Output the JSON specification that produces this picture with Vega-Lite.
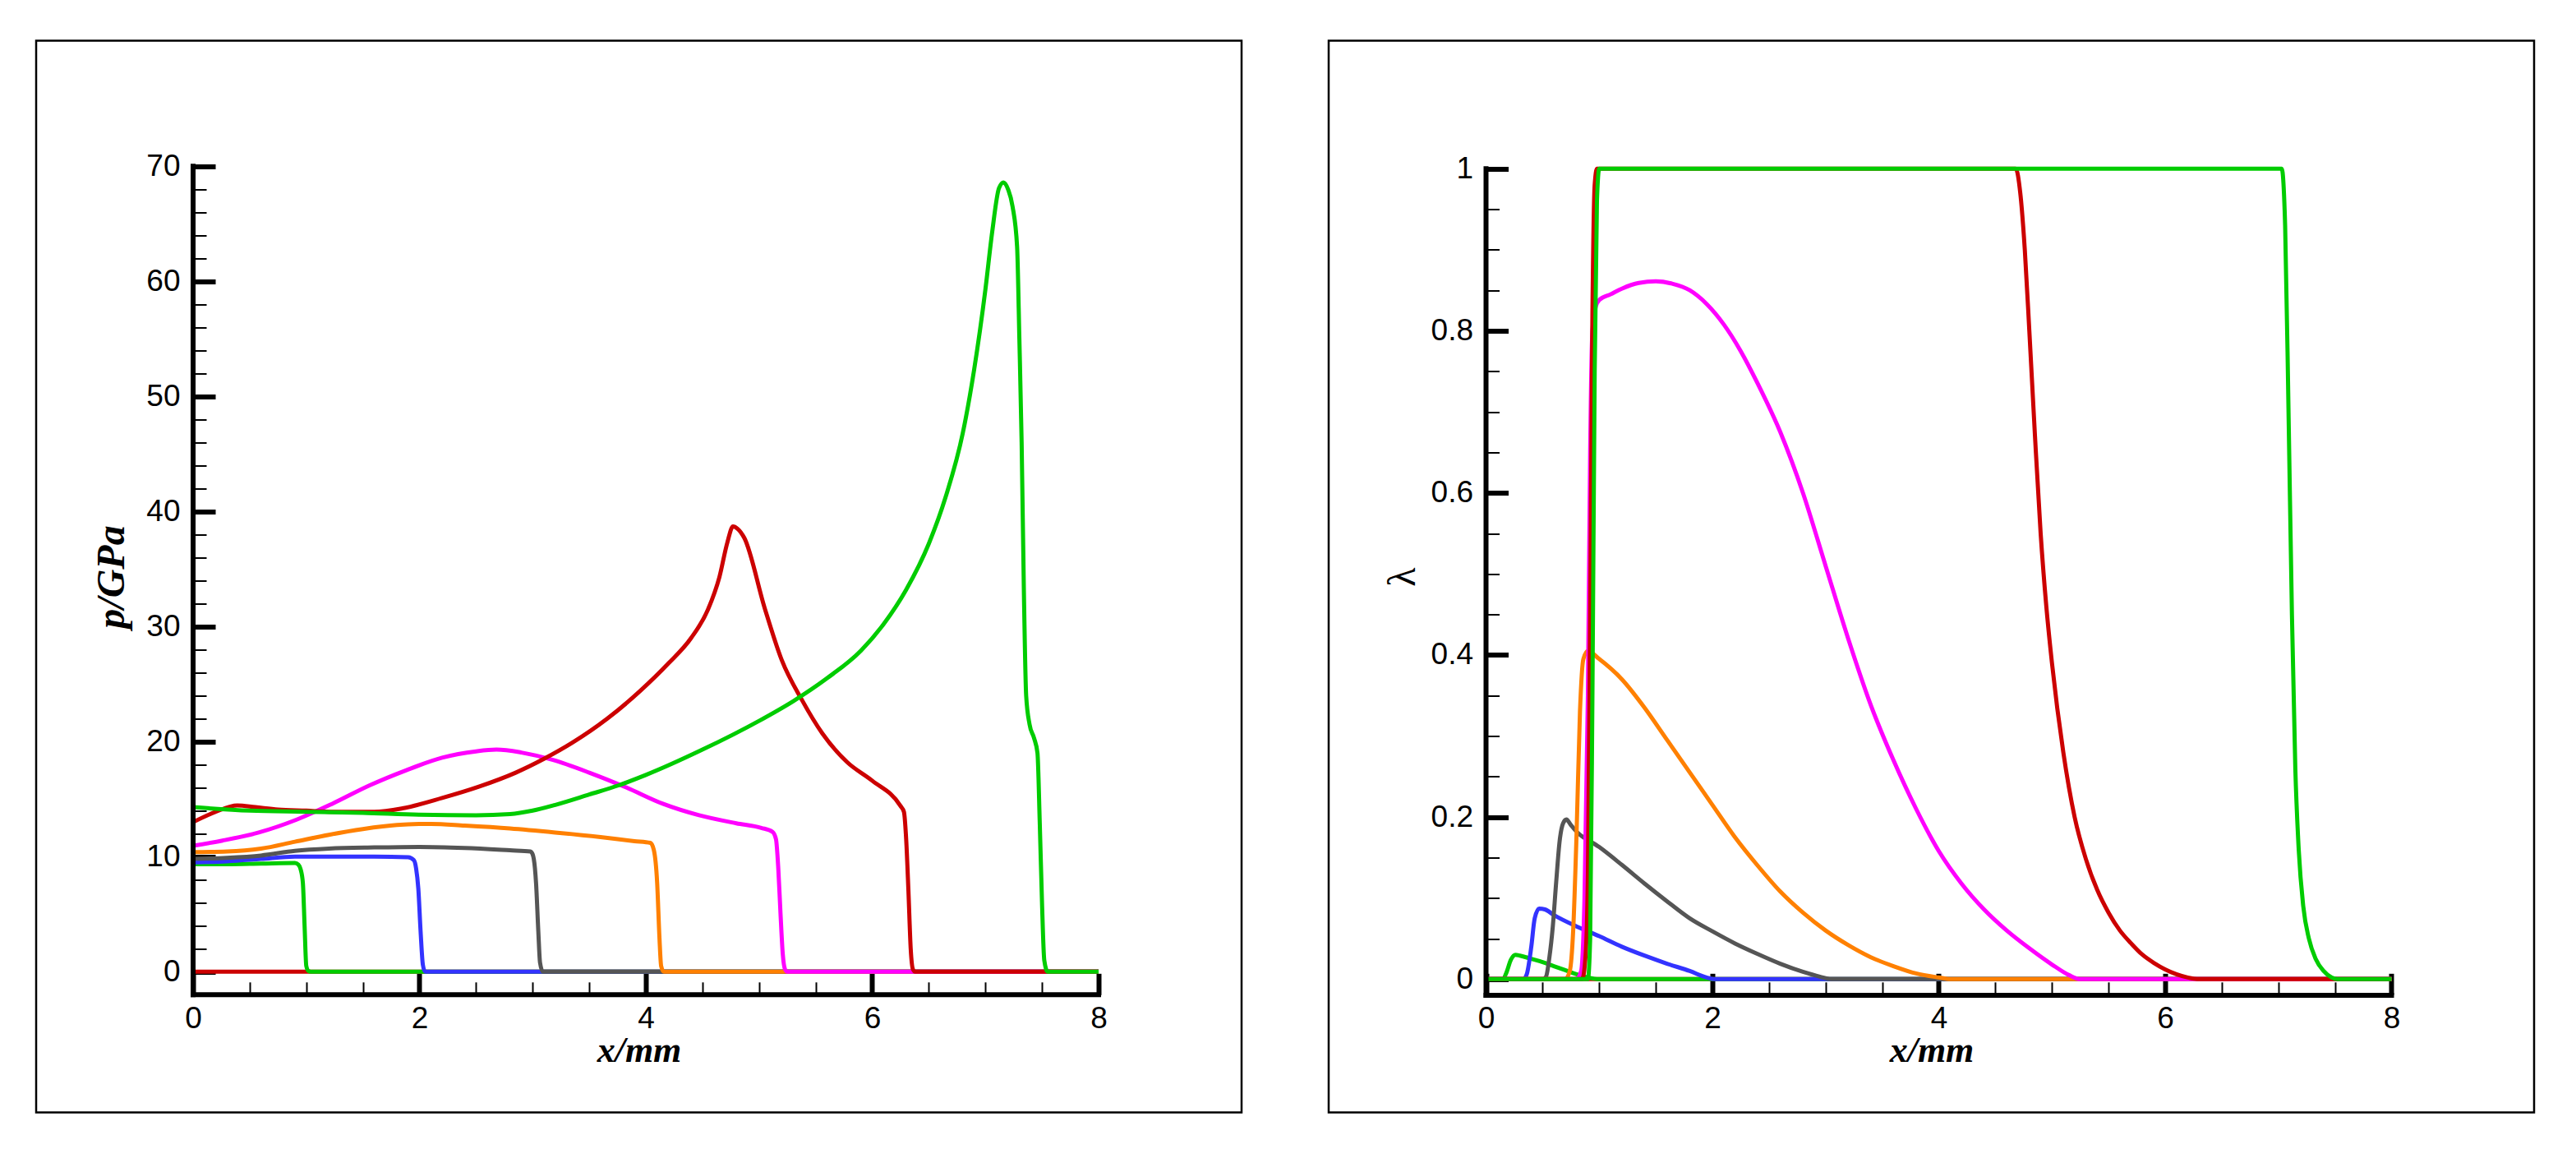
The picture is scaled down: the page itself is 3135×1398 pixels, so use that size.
{
  "$schema": "https://vega.github.io/schema/vega-lite/v6.json",
  "padding": {"left": 42, "top": 47.5, "right": 0, "bottom": 0},
  "background": "white",
  "spacing": 102,
  "datasets": {
    "p": [
      {"series": "t0", "x": 0, "p": 0}, {"series": "t0", "x": 8, "p": 0},

      {"series": "t1", "x": 0, "p": 9.35}, {"series": "t1", "x": 0.3, "p": 9.35}, {"series": "t1", "x": 0.6, "p": 9.4},
      {"series": "t1", "x": 0.9, "p": 9.45}, {"series": "t1", "x": 0.93, "p": 9.3}, {"series": "t1", "x": 0.95, "p": 8.9},
      {"series": "t1", "x": 0.97, "p": 7.7}, {"series": "t1", "x": 0.985, "p": 4}, {"series": "t1", "x": 1.0, "p": 0.5},
      {"series": "t1", "x": 1.02, "p": 0.05}, {"series": "t1", "x": 1.04, "p": 0}, {"series": "t1", "x": 8, "p": 0},

      {"series": "t2", "x": 0, "p": 9.5}, {"series": "t2", "x": 0.3, "p": 9.6}, {"series": "t2", "x": 0.6, "p": 9.8},
      {"series": "t2", "x": 0.9, "p": 10.0}, {"series": "t2", "x": 1.3, "p": 10.0}, {"series": "t2", "x": 1.6, "p": 10.0},
      {"series": "t2", "x": 1.9, "p": 9.95}, {"series": "t2", "x": 1.95, "p": 9.7}, {"series": "t2", "x": 1.97, "p": 9.0},
      {"series": "t2", "x": 1.99, "p": 7.2}, {"series": "t2", "x": 2.01, "p": 3.5}, {"series": "t2", "x": 2.03, "p": 0.6},
      {"series": "t2", "x": 2.05, "p": 0}, {"series": "t2", "x": 8, "p": 0},

      {"series": "t3", "x": 0, "p": 9.8}, {"series": "t3", "x": 0.3, "p": 9.9}, {"series": "t3", "x": 0.6, "p": 10.1},
      {"series": "t3", "x": 0.9, "p": 10.5}, {"series": "t3", "x": 1.2, "p": 10.7}, {"series": "t3", "x": 1.6, "p": 10.8},
      {"series": "t3", "x": 2.0, "p": 10.85}, {"series": "t3", "x": 2.4, "p": 10.75}, {"series": "t3", "x": 2.8, "p": 10.55},
      {"series": "t3", "x": 2.98, "p": 10.45}, {"series": "t3", "x": 3.0, "p": 10.2}, {"series": "t3", "x": 3.02, "p": 9.0},
      {"series": "t3", "x": 3.03, "p": 7.7}, {"series": "t3", "x": 3.05, "p": 3.5}, {"series": "t3", "x": 3.065, "p": 0.8},
      {"series": "t3", "x": 3.09, "p": 0}, {"series": "t3", "x": 8, "p": 0},

      {"series": "t4", "x": 0, "p": 10.4}, {"series": "t4", "x": 0.3, "p": 10.45}, {"series": "t4", "x": 0.6, "p": 10.7},
      {"series": "t4", "x": 0.9, "p": 11.3}, {"series": "t4", "x": 1.2, "p": 11.9}, {"series": "t4", "x": 1.5, "p": 12.4},
      {"series": "t4", "x": 1.8, "p": 12.75}, {"series": "t4", "x": 2.1, "p": 12.85}, {"series": "t4", "x": 2.4, "p": 12.7},
      {"series": "t4", "x": 2.8, "p": 12.45}, {"series": "t4", "x": 3.2, "p": 12.1}, {"series": "t4", "x": 3.6, "p": 11.7},
      {"series": "t4", "x": 3.9, "p": 11.35}, {"series": "t4", "x": 4.04, "p": 11.2}, {"series": "t4", "x": 4.07, "p": 10.6},
      {"series": "t4", "x": 4.1, "p": 7.7}, {"series": "t4", "x": 4.12, "p": 3}, {"series": "t4", "x": 4.135, "p": 0.5},
      {"series": "t4", "x": 4.16, "p": 0}, {"series": "t4", "x": 8, "p": 0},

      {"series": "t5", "x": 0, "p": 10.95}, {"series": "t5", "x": 0.26, "p": 11.4}, {"series": "t5", "x": 0.58, "p": 12.1},
      {"series": "t5", "x": 0.91, "p": 13.2}, {"series": "t5", "x": 1.23, "p": 14.6}, {"series": "t5", "x": 1.56, "p": 16.2},
      {"series": "t5", "x": 1.88, "p": 17.5}, {"series": "t5", "x": 2.2, "p": 18.6}, {"series": "t5", "x": 2.5, "p": 19.15},
      {"series": "t5", "x": 2.68, "p": 19.3}, {"series": "t5", "x": 2.9, "p": 19.05}, {"series": "t5", "x": 3.18, "p": 18.4},
      {"series": "t5", "x": 3.5, "p": 17.3}, {"series": "t5", "x": 3.83, "p": 16.0}, {"series": "t5", "x": 4.15, "p": 14.6},
      {"series": "t5", "x": 4.47, "p": 13.6}, {"series": "t5", "x": 4.8, "p": 12.9}, {"series": "t5", "x": 5.02, "p": 12.5},
      {"series": "t5", "x": 5.12, "p": 12.15}, {"series": "t5", "x": 5.15, "p": 11.5}, {"series": "t5", "x": 5.17, "p": 9},
      {"series": "t5", "x": 5.19, "p": 5}, {"series": "t5", "x": 5.21, "p": 1.5}, {"series": "t5", "x": 5.23, "p": 0.2},
      {"series": "t5", "x": 5.25, "p": 0}, {"series": "t5", "x": 8, "p": 0},

      {"series": "t6", "x": 0, "p": 13.0}, {"series": "t6", "x": 0.2, "p": 13.9}, {"series": "t6", "x": 0.39, "p": 14.45},
      {"series": "t6", "x": 0.55, "p": 14.3}, {"series": "t6", "x": 0.75, "p": 14.1}, {"series": "t6", "x": 1.0, "p": 14.0},
      {"series": "t6", "x": 1.23, "p": 13.9}, {"series": "t6", "x": 1.6, "p": 13.9}, {"series": "t6", "x": 1.85, "p": 14.2},
      {"series": "t6", "x": 2.2, "p": 15.1}, {"series": "t6", "x": 2.53, "p": 16.1}, {"series": "t6", "x": 2.85, "p": 17.3},
      {"series": "t6", "x": 3.1, "p": 18.5}, {"series": "t6", "x": 3.35, "p": 19.9}, {"series": "t6", "x": 3.66, "p": 22.0},
      {"series": "t6", "x": 3.95, "p": 24.4}, {"series": "t6", "x": 4.2, "p": 26.8}, {"series": "t6", "x": 4.4, "p": 29.0},
      {"series": "t6", "x": 4.55, "p": 31.5}, {"series": "t6", "x": 4.65, "p": 34.3}, {"series": "t6", "x": 4.72, "p": 37.3},
      {"series": "t6", "x": 4.77, "p": 38.7}, {"series": "t6", "x": 4.81, "p": 38.5}, {"series": "t6", "x": 4.87, "p": 37.7},
      {"series": "t6", "x": 5.05, "p": 31.6}, {"series": "t6", "x": 5.2, "p": 27.1}, {"series": "t6", "x": 5.38, "p": 23.6},
      {"series": "t6", "x": 5.56, "p": 20.7}, {"series": "t6", "x": 5.78, "p": 18.2}, {"series": "t6", "x": 6.0, "p": 16.6},
      {"series": "t6", "x": 6.25, "p": 14.4}, {"series": "t6", "x": 6.28, "p": 13.9}, {"series": "t6", "x": 6.3, "p": 11.5},
      {"series": "t6", "x": 6.32, "p": 7}, {"series": "t6", "x": 6.34, "p": 2}, {"series": "t6", "x": 6.36, "p": 0.2},
      {"series": "t6", "x": 6.38, "p": 0}, {"series": "t6", "x": 8, "p": 0},

      {"series": "t7", "x": 0, "p": 14.3}, {"series": "t7", "x": 0.5, "p": 14.0}, {"series": "t7", "x": 1.0, "p": 13.9},
      {"series": "t7", "x": 1.5, "p": 13.8}, {"series": "t7", "x": 2.0, "p": 13.65}, {"series": "t7", "x": 2.5, "p": 13.6},
      {"series": "t7", "x": 2.8, "p": 13.7}, {"series": "t7", "x": 3.0, "p": 14.0}, {"series": "t7", "x": 3.2, "p": 14.5},
      {"series": "t7", "x": 3.5, "p": 15.4}, {"series": "t7", "x": 3.76, "p": 16.2}, {"series": "t7", "x": 4.0, "p": 17.1},
      {"series": "t7", "x": 4.5, "p": 19.3}, {"series": "t7", "x": 5.0, "p": 21.8}, {"series": "t7", "x": 5.3, "p": 23.5},
      {"series": "t7", "x": 5.6, "p": 25.5}, {"series": "t7", "x": 5.9, "p": 27.9}, {"series": "t7", "x": 6.1, "p": 30.2},
      {"series": "t7", "x": 6.3, "p": 33.2}, {"series": "t7", "x": 6.5, "p": 37.2}, {"series": "t7", "x": 6.65, "p": 41.3},
      {"series": "t7", "x": 6.8, "p": 46.8}, {"series": "t7", "x": 6.9, "p": 52.3}, {"series": "t7", "x": 7.0, "p": 59.3},
      {"series": "t7", "x": 7.06, "p": 64.3}, {"series": "t7", "x": 7.12, "p": 68.1}, {"series": "t7", "x": 7.16, "p": 68.6},
      {"series": "t7", "x": 7.2, "p": 68.0}, {"series": "t7", "x": 7.24, "p": 66.5}, {"series": "t7", "x": 7.28, "p": 63},
      {"series": "t7", "x": 7.3, "p": 55}, {"series": "t7", "x": 7.32, "p": 46}, {"series": "t7", "x": 7.34, "p": 33},
      {"series": "t7", "x": 7.36, "p": 24}, {"series": "t7", "x": 7.39, "p": 21.5}, {"series": "t7", "x": 7.43, "p": 20.3},
      {"series": "t7", "x": 7.46, "p": 19}, {"series": "t7", "x": 7.48, "p": 13}, {"series": "t7", "x": 7.5, "p": 6},
      {"series": "t7", "x": 7.52, "p": 1}, {"series": "t7", "x": 7.55, "p": 0}, {"series": "t7", "x": 8, "p": 0}
    ],
    "lambda": [
      {"series": "t0", "x": 0, "lambda": 0}, {"series": "t0", "x": 8, "lambda": 0},

      {"series": "t1", "x": 0, "lambda": 0}, {"series": "t1", "x": 0.15, "lambda": 0}, {"series": "t1", "x": 0.18, "lambda": 0.008},
      {"series": "t1", "x": 0.22, "lambda": 0.024}, {"series": "t1", "x": 0.26, "lambda": 0.03}, {"series": "t1", "x": 0.3, "lambda": 0.029},
      {"series": "t1", "x": 0.4, "lambda": 0.025}, {"series": "t1", "x": 0.5, "lambda": 0.021}, {"series": "t1", "x": 0.6, "lambda": 0.016},
      {"series": "t1", "x": 0.7, "lambda": 0.011}, {"series": "t1", "x": 0.8, "lambda": 0.006}, {"series": "t1", "x": 0.9, "lambda": 0.002},
      {"series": "t1", "x": 1.0, "lambda": 0}, {"series": "t1", "x": 8, "lambda": 0},

      {"series": "t2", "x": 0, "lambda": 0}, {"series": "t2", "x": 0.33, "lambda": 0}, {"series": "t2", "x": 0.36, "lambda": 0.006},
      {"series": "t2", "x": 0.4, "lambda": 0.04}, {"series": "t2", "x": 0.43, "lambda": 0.075}, {"series": "t2", "x": 0.47, "lambda": 0.087},
      {"series": "t2", "x": 0.52, "lambda": 0.086}, {"series": "t2", "x": 0.6, "lambda": 0.079}, {"series": "t2", "x": 0.8, "lambda": 0.065},
      {"series": "t2", "x": 1.0, "lambda": 0.053}, {"series": "t2", "x": 1.2, "lambda": 0.04}, {"series": "t2", "x": 1.4, "lambda": 0.029},
      {"series": "t2", "x": 1.6, "lambda": 0.019}, {"series": "t2", "x": 1.8, "lambda": 0.01}, {"series": "t2", "x": 1.95, "lambda": 0.002},
      {"series": "t2", "x": 2.02, "lambda": 0}, {"series": "t2", "x": 8, "lambda": 0},

      {"series": "t3", "x": 0, "lambda": 0}, {"series": "t3", "x": 0.5, "lambda": 0}, {"series": "t3", "x": 0.53, "lambda": 0.003},
      {"series": "t3", "x": 0.56, "lambda": 0.027}, {"series": "t3", "x": 0.59, "lambda": 0.065}, {"series": "t3", "x": 0.62, "lambda": 0.12},
      {"series": "t3", "x": 0.65, "lambda": 0.17}, {"series": "t3", "x": 0.68, "lambda": 0.192}, {"series": "t3", "x": 0.71, "lambda": 0.197},
      {"series": "t3", "x": 0.75, "lambda": 0.19}, {"series": "t3", "x": 0.8, "lambda": 0.182}, {"series": "t3", "x": 1.0, "lambda": 0.163},
      {"series": "t3", "x": 1.2, "lambda": 0.141}, {"series": "t3", "x": 1.4, "lambda": 0.118}, {"series": "t3", "x": 1.6, "lambda": 0.096},
      {"series": "t3", "x": 1.8, "lambda": 0.075}, {"series": "t3", "x": 2.0, "lambda": 0.059}, {"series": "t3", "x": 2.2, "lambda": 0.044},
      {"series": "t3", "x": 2.4, "lambda": 0.031}, {"series": "t3", "x": 2.6, "lambda": 0.019}, {"series": "t3", "x": 2.8, "lambda": 0.009},
      {"series": "t3", "x": 2.95, "lambda": 0.003}, {"series": "t3", "x": 3.05, "lambda": 0}, {"series": "t3", "x": 8, "lambda": 0},

      {"series": "t4", "x": 0, "lambda": 0}, {"series": "t4", "x": 0.7, "lambda": 0}, {"series": "t4", "x": 0.74, "lambda": 0.01},
      {"series": "t4", "x": 0.77, "lambda": 0.06}, {"series": "t4", "x": 0.8, "lambda": 0.18}, {"series": "t4", "x": 0.83, "lambda": 0.33},
      {"series": "t4", "x": 0.86, "lambda": 0.395}, {"series": "t4", "x": 0.9, "lambda": 0.405}, {"series": "t4", "x": 1.0, "lambda": 0.395},
      {"series": "t4", "x": 1.2, "lambda": 0.37}, {"series": "t4", "x": 1.4, "lambda": 0.335}, {"series": "t4", "x": 1.6, "lambda": 0.295},
      {"series": "t4", "x": 1.8, "lambda": 0.255}, {"series": "t4", "x": 2.0, "lambda": 0.215}, {"series": "t4", "x": 2.2, "lambda": 0.175},
      {"series": "t4", "x": 2.4, "lambda": 0.14}, {"series": "t4", "x": 2.6, "lambda": 0.108}, {"series": "t4", "x": 2.8, "lambda": 0.082},
      {"series": "t4", "x": 3.0, "lambda": 0.06}, {"series": "t4", "x": 3.2, "lambda": 0.042}, {"series": "t4", "x": 3.4, "lambda": 0.027},
      {"series": "t4", "x": 3.6, "lambda": 0.016}, {"series": "t4", "x": 3.8, "lambda": 0.007}, {"series": "t4", "x": 4.0, "lambda": 0.002},
      {"series": "t4", "x": 4.1, "lambda": 0}, {"series": "t4", "x": 8, "lambda": 0},

      {"series": "t5", "x": 0, "lambda": 0}, {"series": "t5", "x": 0.8, "lambda": 0}, {"series": "t5", "x": 0.84, "lambda": 0.01},
      {"series": "t5", "x": 0.87, "lambda": 0.1}, {"series": "t5", "x": 0.9, "lambda": 0.35}, {"series": "t5", "x": 0.92, "lambda": 0.65},
      {"series": "t5", "x": 0.94, "lambda": 0.8}, {"series": "t5", "x": 0.97, "lambda": 0.83}, {"series": "t5", "x": 1.0, "lambda": 0.838},
      {"series": "t5", "x": 1.1, "lambda": 0.845}, {"series": "t5", "x": 1.2, "lambda": 0.852}, {"series": "t5", "x": 1.35, "lambda": 0.859},
      {"series": "t5", "x": 1.5, "lambda": 0.861}, {"series": "t5", "x": 1.65, "lambda": 0.858}, {"series": "t5", "x": 1.8, "lambda": 0.85},
      {"series": "t5", "x": 1.95, "lambda": 0.833}, {"series": "t5", "x": 2.1, "lambda": 0.808}, {"series": "t5", "x": 2.25, "lambda": 0.775},
      {"series": "t5", "x": 2.4, "lambda": 0.735}, {"series": "t5", "x": 2.6, "lambda": 0.675}, {"series": "t5", "x": 2.8, "lambda": 0.6},
      {"series": "t5", "x": 3.0, "lambda": 0.51}, {"series": "t5", "x": 3.2, "lambda": 0.42}, {"series": "t5", "x": 3.4, "lambda": 0.338},
      {"series": "t5", "x": 3.6, "lambda": 0.27}, {"series": "t5", "x": 3.8, "lambda": 0.21}, {"series": "t5", "x": 4.0, "lambda": 0.158},
      {"series": "t5", "x": 4.2, "lambda": 0.118}, {"series": "t5", "x": 4.4, "lambda": 0.086}, {"series": "t5", "x": 4.6, "lambda": 0.06},
      {"series": "t5", "x": 4.8, "lambda": 0.038}, {"series": "t5", "x": 5.0, "lambda": 0.018}, {"series": "t5", "x": 5.15, "lambda": 0.005},
      {"series": "t5", "x": 5.25, "lambda": 0}, {"series": "t5", "x": 8, "lambda": 0},

      {"series": "t6", "x": 0, "lambda": 0}, {"series": "t6", "x": 0.85, "lambda": 0}, {"series": "t6", "x": 0.88, "lambda": 0.03},
      {"series": "t6", "x": 0.9, "lambda": 0.13}, {"series": "t6", "x": 0.92, "lambda": 0.45}, {"series": "t6", "x": 0.94, "lambda": 0.82},
      {"series": "t6", "x": 0.96, "lambda": 0.98}, {"series": "t6", "x": 0.98, "lambda": 1}, {"series": "t6", "x": 4.68, "lambda": 1},
      {"series": "t6", "x": 4.72, "lambda": 0.97}, {"series": "t6", "x": 4.76, "lambda": 0.9}, {"series": "t6", "x": 4.8, "lambda": 0.8},
      {"series": "t6", "x": 4.85, "lambda": 0.67}, {"series": "t6", "x": 4.9, "lambda": 0.55}, {"series": "t6", "x": 4.95, "lambda": 0.46},
      {"series": "t6", "x": 5.0, "lambda": 0.39}, {"series": "t6", "x": 5.1, "lambda": 0.28}, {"series": "t6", "x": 5.2, "lambda": 0.2},
      {"series": "t6", "x": 5.3, "lambda": 0.148}, {"series": "t6", "x": 5.4, "lambda": 0.11}, {"series": "t6", "x": 5.5, "lambda": 0.082},
      {"series": "t6", "x": 5.6, "lambda": 0.06}, {"series": "t6", "x": 5.7, "lambda": 0.044}, {"series": "t6", "x": 5.8, "lambda": 0.03},
      {"series": "t6", "x": 5.9, "lambda": 0.02}, {"series": "t6", "x": 6.0, "lambda": 0.012}, {"series": "t6", "x": 6.1, "lambda": 0.006},
      {"series": "t6", "x": 6.2, "lambda": 0.002}, {"series": "t6", "x": 6.3, "lambda": 0}, {"series": "t6", "x": 8, "lambda": 0},

      {"series": "t7", "x": 0, "lambda": 0}, {"series": "t7", "x": 0.9, "lambda": 0}, {"series": "t7", "x": 0.92, "lambda": 0.05},
      {"series": "t7", "x": 0.94, "lambda": 0.35}, {"series": "t7", "x": 0.96, "lambda": 0.75}, {"series": "t7", "x": 0.98, "lambda": 0.96},
      {"series": "t7", "x": 1.0, "lambda": 1}, {"series": "t7", "x": 7.03, "lambda": 1}, {"series": "t7", "x": 7.06, "lambda": 0.93},
      {"series": "t7", "x": 7.09, "lambda": 0.7}, {"series": "t7", "x": 7.12, "lambda": 0.45}, {"series": "t7", "x": 7.15, "lambda": 0.26},
      {"series": "t7", "x": 7.18, "lambda": 0.16}, {"series": "t7", "x": 7.22, "lambda": 0.09}, {"series": "t7", "x": 7.27, "lambda": 0.05},
      {"series": "t7", "x": 7.33, "lambda": 0.025}, {"series": "t7", "x": 7.4, "lambda": 0.01}, {"series": "t7", "x": 7.47, "lambda": 0.002},
      {"series": "t7", "x": 7.52, "lambda": 0}, {"series": "t7", "x": 8, "lambda": 0}
    ]
  },
  "hconcat": [
    {
      "width": 1467,
      "height": 1304,
      "resolve": {"axis": {"x": "independent", "y": "independent"}},
      "layer": [
        {
          "data": {"name": "p"},
          "mark": {"type": "line", "strokeWidth": 5, "interpolate": "monotone"},
          "encoding": {
            "x": {
              "field": "x", "type": "quantitative",
              "scale": {"domain": [-1.38657, 9.26316], "nice": false, "zero": false},
              "axis": {"orient": "bottom", "offset": -143.2, "values": [0, 2, 4, 6, 8], "ticks": false, "tickSize": 0, "labelPadding": 11,
                       "title": "x/mm", "titleFontStyle": "italic", "titleFontWeight": "bold", "titleBaseline": "alphabetic", "titlePadding": 34}
            },
            "y": {
              "field": "p", "type": "quantitative",
              "scale": {"domain": [-12.229, 80.914], "nice": false, "zero": false},
              "axis": {"orient": "left", "offset": -191, "values": [0, 10, 20, 30, 40, 50, 60, 70], "ticks": false, "tickSize": 0, "labelPadding": 16,
                       "title": "p/GPa", "titleFontSize": 48, "titleFontStyle": "italic", "titleFontWeight": "bold", "titleBaseline": "alphabetic", "titlePadding": 27}
            },
            "color": {
              "field": "series", "type": "nominal", "legend": null,
              "scale": {"domain": ["t0", "t1", "t2", "t3", "t4", "t5", "t6", "t7"],
                        "range": ["#CC0000", "#00CC00", "#3333FF", "#555555", "#FF8000", "#FF00FF", "#CC0000", "#00CC00"]}
            }
          }
        },
        {
          "data": {"values": [{}]},
          "mark": {"type": "rule", "color": "black", "strokeWidth": 6, "strokeCap": "square"},
          "encoding": {
            "x": {"datum": 0, "type": "quantitative",
                  "scale": {"domain": [-1.38657, 9.26316], "nice": false, "zero": false},
                  "axis": {"orient": "bottom", "offset": -169.2, "values": [0, 2, 4, 6, 8], "tickSize": 26, "tickWidth": 6, "labels": false, "title": null}},
            "x2": {"datum": 8},
            "y": {"datum": -2, "type": "quantitative",
                  "scale": {"domain": [-12.229, 80.914], "nice": false, "zero": false},
                  "axis": {"orient": "left", "offset": -218, "values": [0, 10, 20, 30, 40, 50, 60, 70], "tickSize": 27, "tickWidth": 6, "labels": false, "title": null}}
          }
        },
        {
          "data": {"values": [{}]},
          "mark": {"type": "rule", "color": "black", "strokeWidth": 6, "strokeCap": "square"},
          "encoding": {
            "x": {"datum": 0, "type": "quantitative",
                  "scale": {"domain": [-1.38657, 9.26316], "nice": false, "zero": false},
                  "axis": {"orient": "bottom", "offset": -158.7, "values": [0.5, 1, 1.5, 2.5, 3, 3.5, 4.5, 5, 5.5, 6.5, 7, 7.5], "tickSize": 15.5, "tickWidth": 2, "labels": false, "title": null}},
            "y": {"datum": -2, "type": "quantitative",
                  "scale": {"domain": [-12.229, 80.914], "nice": false, "zero": false},
                  "axis": {"orient": "left", "offset": -207, "values": [2, 4, 6, 8, 12, 14, 16, 18, 22, 24, 26, 28, 32, 34, 36, 38, 42, 44, 46, 48, 52, 54, 56, 58, 62, 64, 66, 68], "tickSize": 16, "tickWidth": 2, "labels": false, "title": null}},
            "y2": {"datum": 70}
          }
        }
      ]
    },
    {
      "width": 1467,
      "height": 1304,
      "resolve": {"axis": {"x": "independent", "y": "independent"}},
      "layer": [
        {
          "data": {"name": "lambda"},
          "mark": {"type": "line", "strokeWidth": 5, "interpolate": "monotone"},
          "encoding": {
            "x": {
              "field": "x", "type": "quantitative",
              "scale": {"domain": [-1.3902, 9.25953], "nice": false, "zero": false},
              "axis": {"orient": "bottom", "offset": -143.2, "values": [0, 2, 4, 6, 8], "ticks": false, "tickSize": 0, "labelPadding": 11,
                       "title": "x/mm", "titleFontStyle": "italic", "titleFontWeight": "bold", "titleBaseline": "alphabetic", "titlePadding": 34}
            },
            "y": {
              "field": "lambda", "type": "quantitative",
              "scale": {"domain": [-0.1645, 1.15801], "nice": false, "zero": false},
              "axis": {"orient": "left", "offset": -191.5, "values": [0, 0.2, 0.4, 0.6, 0.8, 1], "format": "~g", "ticks": false, "tickSize": 0, "labelPadding": 16,
                       "title": "λ", "titleFontSize": 48, "titleFontWeight": "normal", "titleBaseline": "alphabetic", "titlePadding": 20}
            },
            "color": {
              "field": "series", "type": "nominal", "legend": null,
              "scale": {"domain": ["t0", "t1", "t2", "t3", "t4", "t5", "t6", "t7"],
                        "range": ["#CC0000", "#00CC00", "#3333FF", "#555555", "#FF8000", "#FF00FF", "#CC0000", "#00CC00"]}
            }
          }
        },
        {
          "data": {"values": [{}]},
          "mark": {"type": "rule", "color": "black", "strokeWidth": 6, "strokeCap": "square"},
          "encoding": {
            "x": {"datum": 0, "type": "quantitative",
                  "scale": {"domain": [-1.3902, 9.25953], "nice": false, "zero": false},
                  "axis": {"orient": "bottom", "offset": -169.2, "values": [0, 2, 4, 6, 8], "tickSize": 26, "tickWidth": 6, "labels": false, "title": null}},
            "x2": {"datum": 8},
            "y": {"datum": -0.02, "type": "quantitative",
                  "scale": {"domain": [-0.1645, 1.15801], "nice": false, "zero": false},
                  "axis": {"orient": "left", "offset": -218.5, "values": [0, 0.2, 0.4, 0.6, 0.8, 1], "tickSize": 27, "tickWidth": 6, "labels": false, "title": null}}
          }
        },
        {
          "data": {"values": [{}]},
          "mark": {"type": "rule", "color": "black", "strokeWidth": 6, "strokeCap": "square"},
          "encoding": {
            "x": {"datum": 0, "type": "quantitative",
                  "scale": {"domain": [-1.3902, 9.25953], "nice": false, "zero": false},
                  "axis": {"orient": "bottom", "offset": -158.7, "values": [0.5, 1, 1.5, 2.5, 3, 3.5, 4.5, 5, 5.5, 6.5, 7, 7.5], "tickSize": 15.5, "tickWidth": 2, "labels": false, "title": null}},
            "y": {"datum": -0.02, "type": "quantitative",
                  "scale": {"domain": [-0.1645, 1.15801], "nice": false, "zero": false},
                  "axis": {"orient": "left", "offset": -207.5, "values": [0.05, 0.1, 0.15, 0.25, 0.3, 0.35, 0.45, 0.5, 0.55, 0.65, 0.7, 0.75, 0.85, 0.9, 0.95], "tickSize": 16, "tickWidth": 2, "labels": false, "title": null}},
            "y2": {"datum": 1}
          }
        }
      ]
    }
  ],
  "config": {
    "view": {"stroke": "black", "strokeWidth": 2.5},
    "axis": {
      "grid": false,
      "domain": false,
      "zindex": 1,
      "tickColor": "black",
      "labelFont": "Liberation Sans",
      "labelFontSize": 37,
      "labelColor": "black",
      "titleFont": "Liberation Serif",
      "titleFontSize": 44,
      "titleColor": "black"
    }
  }
}
